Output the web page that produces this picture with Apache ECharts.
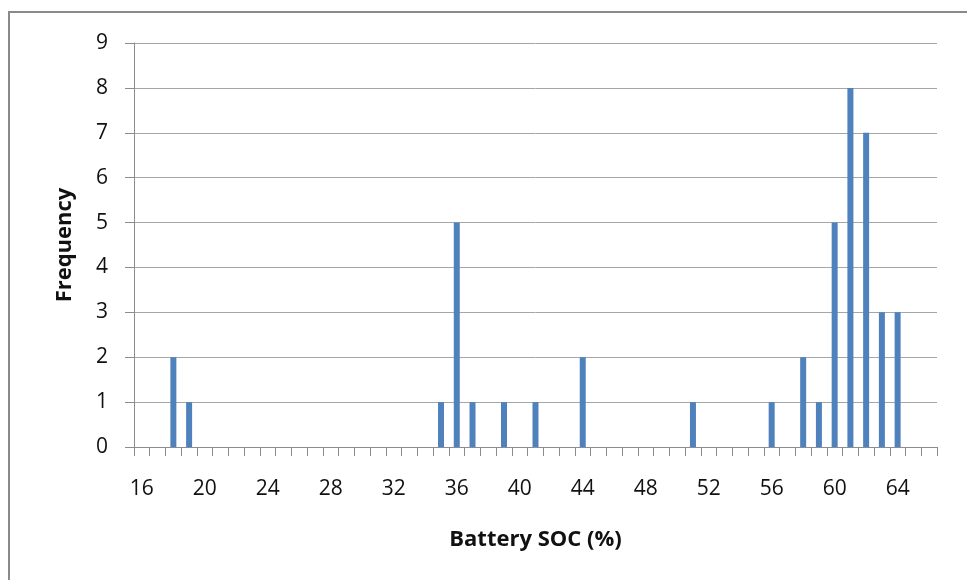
<!DOCTYPE html>
<html>
<head>
<meta charset="utf-8">
<script src="https://cdn.jsdelivr.net/npm/echarts@6/dist/echarts.min.js"></script>
<style>
html,body{margin:0;padding:0;background:#fff;}
#wrap{position:relative;width:967px;height:580px;overflow:hidden;}
#frame{position:absolute;left:8px;top:11px;width:1000px;height:700px;border-left:2px solid #8a8a8a;border-top:2px solid #8a8a8a;}
#chart{position:absolute;left:0;top:0;width:967px;height:580px;}
</style>
</head>
<body>
<div id="wrap"><div id="frame"></div><div id="chart"></div></div>
<script>
// Categories: Battery SOC (%) from 16 to 66
const categories = [16,17,18,19,20,21,22,23,24,25,26,27,28,29,30,31,32,33,34,35,36,37,38,39,40,41,42,43,44,45,46,47,48,49,50,51,52,53,54,55,56,57,58,59,60,61,62,63,64,65,66];
const frequency  = [ 0, 0, 2, 1, 0, 0, 0, 0, 0, 0, 0, 0, 0, 0, 0, 0, 0, 0, 0, 1, 5, 1, 0, 1, 0, 1, 0, 0, 2, 0, 0, 0, 0, 0, 0, 1, 0, 0, 0, 0, 1, 0, 2, 1, 5, 8, 7, 3, 3, 0, 0];
const yTicks = [0,1,2,3,4,5,6,7,8,9];
const xTitle = 'Battery SOC (%)';
const yTitle = 'Frequency';

const FONT = 'Open Sans';
const chart = echarts.init(document.getElementById('chart'), null, {renderer:'canvas'});
chart.setOption({
  animation:false,
  backgroundColor:'transparent',
  grid:{left:134, right:30, top:43, bottom:133, containLabel:false},
  xAxis:{
    type:'category',
    data:categories.map(String),
    boundaryGap:true,
    name:xTitle,
    nameLocation:'middle',
    nameGap:82,
    nameTextStyle:{fontFamily:FONT, fontSize:22, fontWeight:'bold', color:'#111'},
    axisLine:{lineStyle:{color:'#8c8c8c', width:1}},
    axisTick:{show:true, interval:0, length:9, lineStyle:{color:'#8c8c8c'}},
    axisLabel:{interval:3, margin:32, fontFamily:FONT, fontSize:21, color:'#111'},
    splitLine:{show:false}
  },
  yAxis:{
    type:'value',
    min:yTicks[0], max:yTicks[yTicks.length-1], interval:1,
    name:yTitle,
    nameLocation:'middle',
    nameRotate:90,
    nameGap:58,
    nameTextStyle:{fontFamily:FONT, fontSize:22, fontWeight:'bold', color:'#111'},
    axisLine:{show:true, lineStyle:{color:'#8c8c8c', width:1}},
    axisTick:{show:true, length:9, inside:false, lineStyle:{color:'#8c8c8c'}},
    axisLabel:{margin:26, fontFamily:FONT, fontSize:21, color:'#111'},
    splitLine:{show:true, lineStyle:{color:'#a6a6a6', width:1}}
  },
  series:[{
    type:'bar',
    data:frequency,
    barWidth:6,
    itemStyle:{color:'#4f81bd'}
  }]
});
</script>
</body>
</html>
